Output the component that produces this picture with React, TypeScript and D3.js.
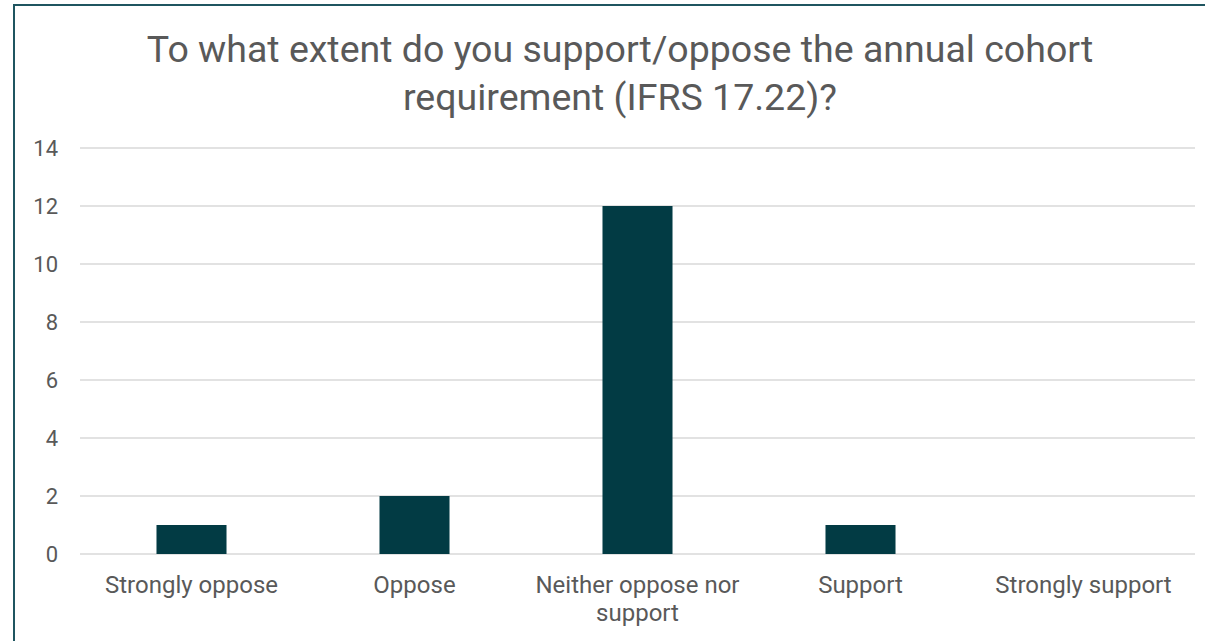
import React from "react";
import * as d3 from "d3";

const categories: string[][] = [
  ["Strongly oppose"],
  ["Oppose"],
  ["Neither oppose nor", "support"],
  ["Support"],
  ["Strongly support"],
];
const responses: number[] = [1, 2, 12, 1, 0];
const yTicks: number[] = [0, 2, 4, 6, 8, 10, 12, 14];
const titleLines: string[] = [
  "To what extent do you support/oppose the annual cohort",
  "requirement (IFRS 17.22)?",
];

const W = 1205;
const H = 641;
const plot = { left: 80, right: 1195, top: 148, bottom: 554 };
const barColor = "#023B44";
const textColor = "#595959";
const font = "Roboto, 'Noto Sans', sans-serif";

export default function App() {
  const keys = categories.map((c) => c.join(" "));
  const x = d3
    .scaleBand<string>()
    .domain(keys)
    .range([plot.left, plot.right])
    .paddingInner(0.686)
    .paddingOuter(0.343);
  const y = d3.scaleLinear().domain([0, 14]).range([plot.bottom, plot.top]);
  const step = (plot.right - plot.left) / keys.length;

  return (
    <svg
      width={W}
      height={H}
      style={{ position: "absolute", left: 0, top: 0, display: "block" }}
      fontFamily={font}
    >
      <rect x={0} y={0} width={W} height={H} fill="#ffffff" />
      <rect
        x={14}
        y={5}
        width={W + 20}
        height={H + 20}
        fill="none"
        stroke="#1F5560"
        strokeWidth={2}
      />
      {titleLines.map((line, i) => (
        <text
          key={i}
          x={620}
          y={62 + i * 48}
          textAnchor="middle"
          fontSize={37.5}
          fill={textColor}
        >
          {line}
        </text>
      ))}
      {yTicks.map((t) => (
        <g key={t}>
          <line
            x1={plot.left}
            x2={plot.right}
            y1={y(t)}
            y2={y(t)}
            stroke="#D9D9D9"
            strokeWidth={1.5}
          />
          <text
            x={58}
            y={y(t)}
            dy="0.35em"
            textAnchor="end"
            fontSize={22}
            fill={textColor}
          >
            {t}
          </text>
        </g>
      ))}
      {responses.map((v, i) =>
        v > 0 ? (
          <rect
            key={i}
            x={x(keys[i])!}
            y={y(v)}
            width={x.bandwidth()}
            height={y(0) - y(v)}
            fill={barColor}
          />
        ) : null
      )}
      {categories.map((lines, i) => {
        const cx = plot.left + step * (i + 0.5);
        return (
          <text
            key={i}
            x={cx}
            textAnchor="middle"
            fontSize={24}
            fill={textColor}
          >
            {lines.map((l, j) => (
              <tspan key={j} x={cx} y={593 + j * 28}>
                {l}
              </tspan>
            ))}
          </text>
        );
      })}
    </svg>
  );
}
